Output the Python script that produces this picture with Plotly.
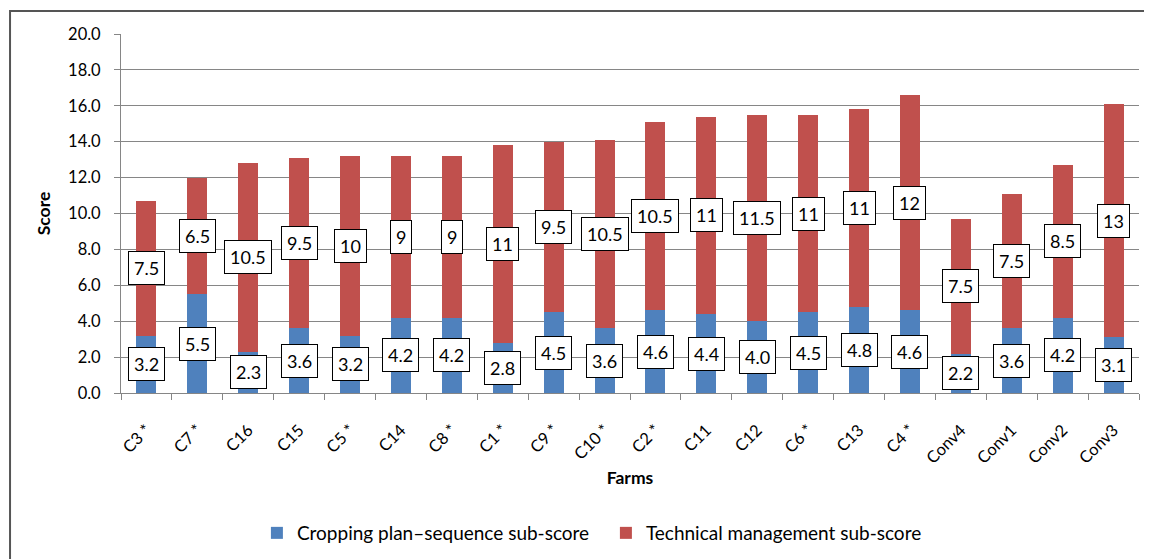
import plotly.graph_objects as go

farms = ["C3 *", "C7 *", "C16", "C15", "C5 *", "C14", "C8 *", "C1 *", "C9 *", "C10 *",
         "C2 *", "C11", "C12", "C6 *", "C13", "C4 *", "Conv4", "Conv1", "Conv2", "Conv3"]
cropping = [3.2, 5.5, 2.3, 3.6, 3.2, 4.2, 4.2, 2.8, 4.5, 3.6,
            4.6, 4.4, 4.0, 4.5, 4.8, 4.6, 2.2, 3.6, 4.2, 3.1]
technical = [7.5, 6.5, 10.5, 9.5, 10, 9, 9, 11, 9.5, 10.5,
             10.5, 11, 11.5, 11, 11, 12, 7.5, 7.5, 8.5, 13]
cropping_labels = [f"{v:.1f}" for v in cropping]
technical_labels = [f"{v:g}" for v in technical]
y_ticks = [0, 2, 4, 6, 8, 10, 12, 14, 16, 18, 20]

BLUE = "#4F81BD"
RED = "#C0504D"
GRID = "#868686"
FONT = "Lato"
FS = 16.5

fig = go.Figure()
fig.add_trace(go.Bar(x=farms, y=cropping, name="Cropping plan\u2013sequence sub-score",
                     marker=dict(color=BLUE, line=dict(width=0))))
fig.add_trace(go.Bar(x=farms, y=technical, name="Technical management sub-score",
                     marker=dict(color=RED, line=dict(width=0))))

annotations = []
for f, c, t, cl, tl in zip(farms, cropping, technical, cropping_labels, technical_labels):
    for yc, txt in ((c / 2, cl), (c + t / 2, tl)):
        annotations.append(dict(x=f, y=yc, text=txt, showarrow=False, xref="x", yref="y",
                                bgcolor="white", bordercolor="black", borderwidth=1,
                                borderpad=5, font=dict(family=FONT, size=18, color="black")))

# page body has an 8px margin, so the figure is 8px smaller and offsets are reduced by 8
fig.update_layout(
    width=1144, height=551,
    margin=dict(l=113, r=13, t=26, b=166, autoexpand=False),
    paper_bgcolor="white", plot_bgcolor="white",
    barmode="stack", bargap=0.607,
    font=dict(family=FONT, size=FS, color="black"),
    showlegend=True,
    legend=dict(orientation="h", x=0.1335, xanchor="left", y=-0.39, yanchor="middle",
                font=dict(family=FONT, size=19, color="black"),
                entrywidth=304, entrywidthmode="pixels", traceorder="normal",
                bgcolor="rgba(0,0,0,0)"),
    annotations=annotations,
    shapes=[dict(type="rect", xref="paper", yref="paper",
                 x0=-0.109, x1=1.05, y0=-0.6, y1=1.064,
                 line=dict(color="#555555", width=2), layer="below")],
)
fig.update_xaxes(
    type="category", tickangle=-45, showgrid=False,
    showline=True, linecolor=GRID, linewidth=1,
    ticks="outside", tickson="boundaries", ticklen=6, tickcolor=GRID,
    ticklabelstandoff=20,
    tickfont=dict(family=FONT, size=FS, color="black"),
    title=dict(text="Farms", standoff=5, font=dict(family=FONT, size=17.5, color="black", weight="bold")),
)
fig.update_yaxes(
    range=[0, 20], tickvals=y_ticks, ticktext=[f"{v:.1f}" for v in y_ticks],
    showgrid=True, gridcolor=GRID, gridwidth=1,
    showline=True, linecolor=GRID, linewidth=1,
    ticks="outside", ticklen=6, tickcolor=GRID, ticklabelstandoff=10,
    tickfont=dict(family=FONT, size=FS, color="black"),
    title=dict(text="Score", standoff=12, font=dict(family=FONT, size=17.5, color="black", weight="bold")),
    zeroline=False,
)

fig.write_html("out.html")
